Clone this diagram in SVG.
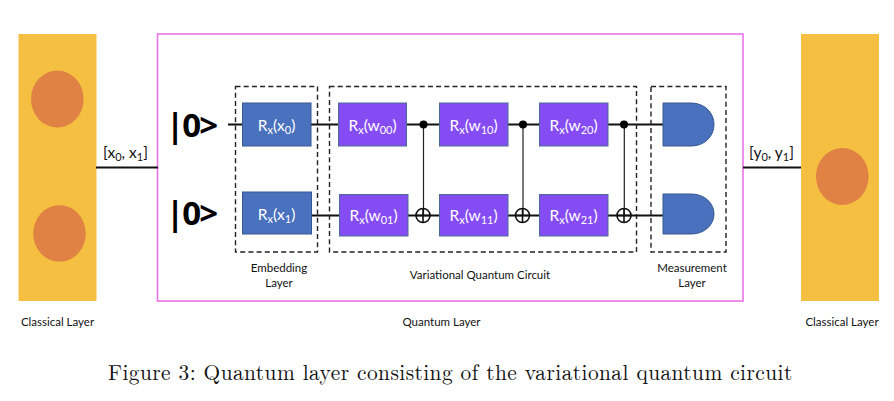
<svg xmlns="http://www.w3.org/2000/svg" width="894" height="401" viewBox="0 0 894 401">
<style>
text{font-family:"Lato","Open Sans","Liberation Sans",sans-serif;fill:#111}
.panel{fill:#f5bf42}
.blob{fill:#e08244}
.dash{fill:none;stroke:#222;stroke-width:1.4;stroke-dasharray:5 3.2}
.enc{fill:#4a71bd;stroke:#36588f;stroke-width:1}
.var{fill:#864cf4;stroke:#4d6a94;stroke-width:1}
.gate{font-size:15.5px;fill:#fff;text-anchor:middle}
.gate tspan.s{font-size:11px}
.lab{font-size:11.5px;text-anchor:middle}
.ket{font-size:33px;font-weight:700;fill:#000;font-family:"Open Sans","Noto Sans",sans-serif}
.w{stroke:#111;stroke-width:2;fill:none}
.c{stroke:#222;stroke-width:1.2;fill:none}
.x{stroke:#111;stroke-width:1.6;fill:none}
.io{font-size:15.5px;text-anchor:middle}
.io tspan.s{font-size:11px}
</style>

<g id="classical-in">
<rect class="panel" x="18.5" y="34" width="78" height="267"/>
<ellipse class="blob" cx="57.3" cy="99" rx="26.3" ry="28.5"/>
<ellipse class="blob" cx="59.5" cy="233.5" rx="26.3" ry="28.3"/>
<text class="lab" x="57.500" y="326">Classical Layer</text>
</g>

<g id="classical-out">
<rect class="panel" x="801" y="34" width="78" height="267"/>
<ellipse class="blob" cx="842.3" cy="176.5" rx="26.3" ry="28.5"/>
<text class="lab" x="842" y="326">Classical Layer</text>
</g>

<g id="quantum-frame">
<rect x="157.5" y="34" width="585.5" height="267" fill="none" stroke="#ea74ea" stroke-width="1.6"/>
<text class="lab" x="441.5" y="326">Quantum Layer</text>
</g>

<g id="connectors">
<path class="w" d="M96 167.5H158M743 167.5H801"/>
<path class="w" d="M228 124.5H243M311 124.5H339M406 124.5H440M508 124.5H540M608 124.5H663"/>
<path class="w" d="M311 215.5H340M408 215.5H440M508 215.5H540M608 215.5H663"/>
<path class="c" d="M423.5 124.5V215M523 124.5V215M624.3 124.5V215"/>
<g fill="#000">
<circle cx="423.5" cy="124.5" r="4"/>
<circle cx="523" cy="124.5" r="4"/>
<circle cx="624" cy="124.5" r="4"/>
</g>
<g class="x">
<circle cx="423" cy="215.5" r="7"/><path d="M416 215.5H430M423 208.5V222.5"/>
<circle cx="522.5" cy="215.5" r="7"/><path d="M515.5 215.5H529.5M522.5 208.5V222.5"/>
<circle cx="624" cy="215.5" r="7"/><path d="M617 215.5H631M624 208.5V222.5"/>
</g>
</g>

<g id="input-label"><text class="io" x="125.5" y="158">[x<tspan class="s" dy="3">0</tspan><tspan dy="-3">, x</tspan><tspan class="s" dy="3">1</tspan><tspan dy="-3">]</tspan></text></g>
<g id="output-label"><text class="io" x="771.5" y="158">[y<tspan class="s" dy="3">0</tspan><tspan dy="-3">, y</tspan><tspan class="s" dy="3">1</tspan><tspan dy="-3">]</tspan></text></g>

<g id="ket-0"><text class="ket" x="166" y="137" textLength="52">|0&gt;</text></g>
<g id="ket-1"><text class="ket" x="166" y="225" textLength="52">|0&gt;</text></g>

<g id="embedding-layer">
<rect class="dash" x="235.5" y="86.5" width="82" height="165.5"/>
<text class="lab" x="279" y="272">Embedding</text>
<text class="lab" x="279" y="287">Layer</text>
</g>
<g id="variational-circuit">
<rect class="dash" x="329.5" y="86.5" width="307" height="165.5"/>
<text class="lab" x="480" y="279">Variational Quantum Circuit</text>
</g>
<g id="measurement-layer">
<rect class="dash" x="651" y="86.5" width="75" height="165.5"/>
<text class="lab" x="692" y="272">Measurement</text>
<text class="lab" x="692" y="287">Layer</text>
</g>

<g id="rx-x0"><rect class="enc" x="242.5" y="103" width="68.5" height="43"/><text class="gate" x="276.5" y="131">R<tspan class="s" dy="3">x</tspan><tspan dy="-3">(x</tspan><tspan class="s" dy="3">0</tspan><tspan dy="-3">)</tspan></text></g>
<g id="rx-x1"><rect class="enc" x="242.5" y="192" width="69" height="42"/><text class="gate" x="276.5" y="220">R<tspan class="s" dy="3">x</tspan><tspan dy="-3">(x</tspan><tspan class="s" dy="3">1</tspan><tspan dy="-3">)</tspan></text></g>

<g id="rx-w00"><rect class="var" x="338.5" y="103" width="68" height="43"/><text class="gate" x="372.5" y="131">R<tspan class="s" dy="3">x</tspan><tspan dy="-3">(w</tspan><tspan class="s" dy="3">00</tspan><tspan dy="-3">)</tspan></text></g>
<g id="rx-w10"><rect class="var" x="439.5" y="103" width="68.5" height="43"/><text class="gate" x="473.5" y="131">R<tspan class="s" dy="3">x</tspan><tspan dy="-3">(w</tspan><tspan class="s" dy="3">10</tspan><tspan dy="-3">)</tspan></text></g>
<g id="rx-w20"><rect class="var" x="539.5" y="103" width="68.5" height="43"/><text class="gate" x="573.5" y="131">R<tspan class="s" dy="3">x</tspan><tspan dy="-3">(w</tspan><tspan class="s" dy="3">20</tspan><tspan dy="-3">)</tspan></text></g>
<g id="rx-w01"><rect class="var" x="339.5" y="194.5" width="68.5" height="41.5"/><text class="gate" x="373.5" y="221">R<tspan class="s" dy="3">x</tspan><tspan dy="-3">(w</tspan><tspan class="s" dy="3">01</tspan><tspan dy="-3">)</tspan></text></g>
<g id="rx-w11"><rect class="var" x="439.5" y="194.5" width="68.5" height="41.5"/><text class="gate" x="473.5" y="221">R<tspan class="s" dy="3">x</tspan><tspan dy="-3">(w</tspan><tspan class="s" dy="3">11</tspan><tspan dy="-3">)</tspan></text></g>
<g id="rx-w21"><rect class="var" x="539.5" y="194.5" width="68.5" height="41.5"/><text class="gate" x="573.5" y="221">R<tspan class="s" dy="3">x</tspan><tspan dy="-3">(w</tspan><tspan class="s" dy="3">21</tspan><tspan dy="-3">)</tspan></text></g>

<g id="measure-0"><path class="enc" d="M663 103H691C705 103 714 113 714 124.5C714 136 705 146 691 146H663Z"/></g>
<g id="measure-1"><path class="enc" d="M663 194H691C705 194 714 203.500 714 214C714 224.500 705 234 691 234H663Z"/></g>

<g id="caption"><text x="108" y="380" style="font-family:'Latin Modern Roman','Liberation Serif',serif;font-size:21.4px;letter-spacing:.43px;fill:#111">Figure 3: Quantum layer consisting of the variational quantum circuit</text></g>
</svg>
